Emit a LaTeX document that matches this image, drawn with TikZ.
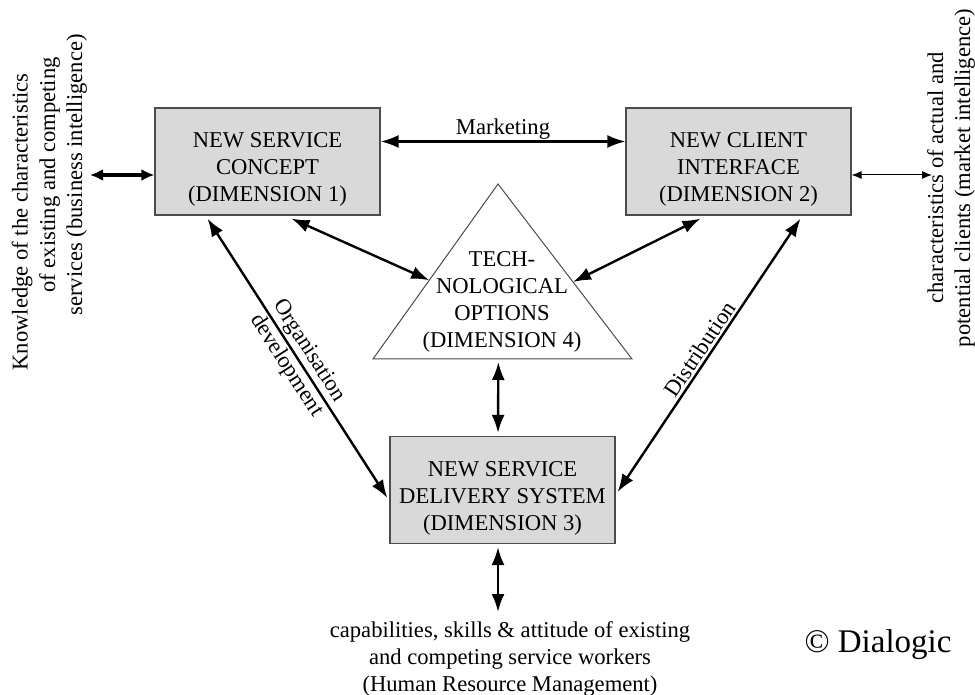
\documentclass[tikz,border=0pt]{standalone}
\usepackage{fontspec}
\setmainfont{Liberation Serif}
\usetikzlibrary{arrows.meta,calc}

\begin{document}
\begin{tikzpicture}[x=0.5pt,y=-0.5pt,
  font=\fontsize{11.3}{13.5}\selectfont,
  dimbox/.style={draw=black!70,fill=black!15,line width=0.6pt,
    minimum width=112.5pt,minimum height=53.5pt,inner sep=0pt},
  dimtext/.style={label={[align=center,yshift=-4pt]center:#1}},
  link/.style={<->,line width=1.2pt},
  thinlink/.style={{Latex[length=5pt,width=4pt]}-{Latex[length=5pt,width=4pt]},line width=0.5pt},
  fatlink/.style={{Latex[length=6.5pt,width=6pt]}-{Latex[length=6.5pt,width=6pt]},line width=1.8pt}]

\tikzset{>={Latex[length=9pt,width=6.5pt]}}
\useasboundingbox (0,0) rectangle (975,695);

% the four dimensions
\draw (267.5,161.5) node[dimbox,dimtext={NEW SERVICE\\CONCEPT\\(DIMENSION 1)}](concept) {};
\draw (738.5,161.5) node[dimbox,dimtext={NEW CLIENT\\INTERFACE\\(DIMENSION 2)}](client) {};
\draw (502.5,490) node[dimbox,dimtext={NEW SERVICE\\DELIVERY SYSTEM\\(DIMENSION 3)}](delivery) {};

\coordinate (apex) at (498,184);
\coordinate (baseL) at (373,359);
\coordinate (baseR) at (632,359);
\draw[black!70,line width=0.5pt] (apex) -- (baseR) -- (baseL) -- cycle;
\draw (502,302) node[align=center,inner sep=0pt](tech) {TECH-\\NOLOGICAL\\OPTIONS\\(DIMENSION 4)};

% outside knowledge
\draw (22,222) node[rotate=90,inner sep=0pt](knowledge) {Knowledge of the characteristics};
\draw (63,175) node[rotate=90,align=center,inner sep=0pt](bizintel) {of existing and competing\\services (business intelligence)};
\draw (951,178) node[rotate=90,align=center,inner sep=0pt](mktintel) {characteristics of actual and\\potential clients (market intelligence)};
\draw (510,659) node[align=center,inner sep=0pt](workers) {capabilities, skills \& attitude of existing\\and competing service workers\\(Human Resource Management)};
\draw (878,645) node[font=\fontsize{16.5}{20}\selectfont,inner sep=0pt](dialogic) {\textcopyright{} Dialogic};

\coordinate (bizend) at (90,175);
\coordinate (mktend) at (932,175);
\coordinate (hrmend) at (498,612);

% connectors
\draw[link] ($(concept.east)+(0,-20)$) -- node[above=-3pt] {Marketing} ($(client.west)+(0,-20)$);
\draw[fatlink] (bizend) -- ($(concept.west)+(0,13.5)$);
\draw[thinlink] ($(client.east)+(0,13.5)$) -- (mktend);
\draw[link] ($(concept.south)+(24,3)$) -- ($(apex)!0.55!(baseL)$);
\draw[link] ($(apex)!0.56!(baseR)$) -- ($(client.south)+(-38,3)$);
\draw[link] ($(baseL)!0.484!(baseR)+(0,3)$) -- ($(delivery.north)+(-4.5,-3)$);
\draw[link] ($(concept.south)+(-60,3)$) -- node[sloped,align=center,inner sep=0pt] {Organisation\\development} ($(delivery.west)+(-2,8)$);
\draw[link] ($(client.south)+(62,3)$) -- node[sloped,above=1pt,inner sep=0pt] {Distribution} ($(delivery.east)+(2,2)$);
\draw[link] ($(delivery.south)+(-4.5,3)$) -- (hrmend);

\end{tikzpicture}
\end{document}
